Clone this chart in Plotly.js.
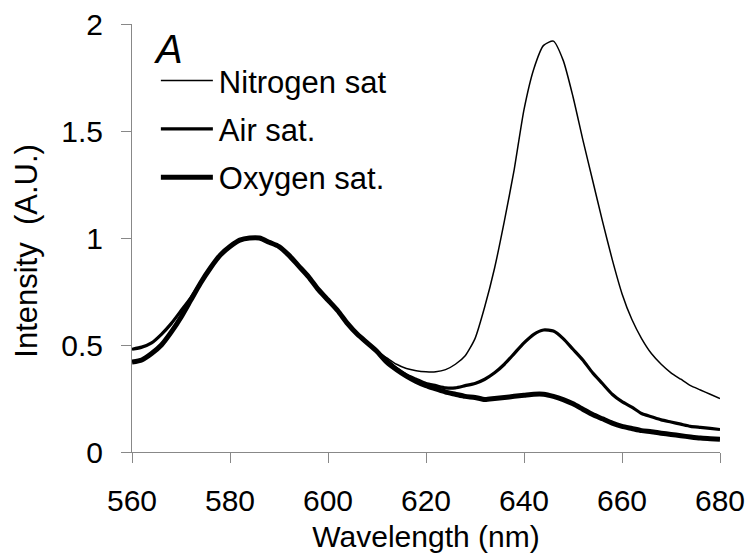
<!DOCTYPE html>
<html>
<head>
<meta charset="utf-8">
<script src="https://cdn.plot.ly/plotly-3.0.1.min.js"></script>
<style>
  html, body { margin: 0; padding: 0; background: #fff; }
  #chart { width: 753px; height: 560px; }
</style>
</head>
<body>
<div id="chart"></div>
<script>
// Wavelength grid (nm)
const wavelength = [
  560,562,564,566,568,570,572,574,576,578,580,582,584,586,588,590,592,594,596,598,
  600,602,604,606,608,610,612,614,616,618,620,622,624,626,628,630,632,634,636,638,
  640,642,644,646,648,650,652,654,656,658,660,662,664,666,668,670,672,674,676,678,680
];

// Nitrogen saturated
const nitrogen = [
  0.48,0.49,0.51,0.55,0.60,0.66,0.72,0.79,0.86,0.92,0.96,0.99,1.00,1.00,0.98,0.96,0.92,0.87,0.82,0.76,
  0.71,0.66,0.60,0.55,0.51,0.47,0.44,0.41,0.39,0.38,0.375,0.375,0.385,0.41,0.45,0.53,0.68,0.86,1.08,1.32,
  1.60,1.79,1.90,1.92,1.83,1.66,1.46,1.27,1.08,0.90,0.74,0.62,0.53,0.46,0.41,0.37,0.34,0.31,0.29,0.27,0.25
];

// Air saturated
const air = [
  0.48,0.49,0.51,0.55,0.60,0.66,0.72,0.79,0.86,0.92,0.96,0.99,1.00,1.00,0.98,0.96,0.92,0.87,0.82,0.76,
  0.71,0.66,0.60,0.55,0.51,0.47,0.43,0.39,0.36,0.34,0.32,0.31,0.30,0.30,0.31,0.32,0.34,0.37,0.41,0.46,
  0.51,0.55,0.57,0.565,0.53,0.48,0.43,0.37,0.32,0.27,0.235,0.21,0.18,0.165,0.15,0.14,0.13,0.12,0.115,0.11,0.105
];

// Oxygen saturated
const oxygen = [
  0.42,0.43,0.46,0.50,0.56,0.63,0.71,0.79,0.86,0.92,0.96,0.99,1.00,1.00,0.98,0.96,0.92,0.87,0.82,0.76,
  0.71,0.66,0.60,0.55,0.51,0.47,0.42,0.385,0.355,0.33,0.31,0.295,0.28,0.27,0.26,0.255,0.245,0.25,0.255,0.26,
  0.265,0.27,0.27,0.26,0.245,0.225,0.20,0.175,0.155,0.135,0.12,0.11,0.10,0.095,0.088,0.082,0.076,0.07,0.065,0.062,0.059
];

const seriesNames = ['Nitrogen sat', 'Air sat.', 'Oxygen sat.'];
const xTicks = [560, 580, 600, 620, 640, 660, 680];
const yTicks = [0, 0.5, 1, 1.5, 2];
const yTickText = ['0', '0.5', '1', '1.5', '2'];

const FONT = 'Liberation Sans, Arial, sans-serif';
const NB = '\u00A0';

const traces = [
  {x: wavelength, y: nitrogen, name: seriesNames[0], legendgroup: 'g1', mode: 'lines',
   line: {color: '#000', width: 1.5, shape: 'spline', smoothing: 0.6}},
  {x: wavelength, y: air, name: seriesNames[1], legendgroup: 'g2', mode: 'lines',
   line: {color: '#000', width: 3.2, shape: 'spline', smoothing: 0.6}},
  {x: wavelength, y: oxygen, name: seriesNames[2], legendgroup: 'g3', mode: 'lines',
   line: {color: '#000', width: 5, shape: 'spline', smoothing: 0.6}}
];

const layout = {
  width: 753, height: 560,
  margin: {l: 132, r: 33, t: 24, b: 108},
  paper_bgcolor: '#fff', plot_bgcolor: '#fff',
  font: {family: FONT, size: 30, color: '#000'},
  showlegend: true,
  legend: {
    x: 0.044, y: 0.93, xanchor: 'left', yanchor: 'top',
    bgcolor: 'rgba(0,0,0,0)', borderwidth: 0,
    font: {family: FONT, size: 31, color: '#000'},
    tracegroupgap: 5, traceorder: 'grouped', itemwidth: 51
  },
  xaxis: {
    range: [560, 680], tickvals: xTicks, ticks: 'outside', ticklen: 10, tickwidth: 1,
    tickcolor: '#888', showline: true, linecolor: '#888', linewidth: 1,
    showgrid: false, zeroline: false, ticklabelstandoff: 12,
    tickfont: {family: FONT, size: 30, color: '#000'},
    title: {text: 'Wavelength (nm)', font: {family: FONT, size: 30, color: '#000'}, standoff: 9}
  },
  yaxis: {
    range: [0, 2], tickvals: yTicks, ticktext: yTickText, ticks: 'outside', ticklen: 10, tickwidth: 1,
    tickcolor: '#888', showline: true, linecolor: '#888', linewidth: 1,
    showgrid: false, zeroline: false, ticklabelstandoff: 12,
    tickfont: {family: FONT, size: 30, color: '#000'},
    title: {text: 'Intensity' + NB + NB + '(A.U.)' + NB + NB + NB + '\u200B', font: {family: FONT, size: 31, color: '#000'}, standoff: 14}
  },
  annotations: [{
    xref: 'paper', yref: 'paper', x: 0.034, y: 0.942, xanchor: 'left', yanchor: 'middle',
    text: '<i>A</i>', showarrow: false, font: {family: FONT, size: 40, color: '#000'}
  }]
};

Plotly.newPlot('chart', traces, layout, {displayModeBar: false, staticPlot: true}).then(function (gd) {
  // lengthen the legend line samples to match the original figure
  gd.querySelectorAll('.legend .legendlines path').forEach(function (p) {
    p.setAttribute('d', 'M3,0h52');
  });
});
</script>
</body>
</html>
